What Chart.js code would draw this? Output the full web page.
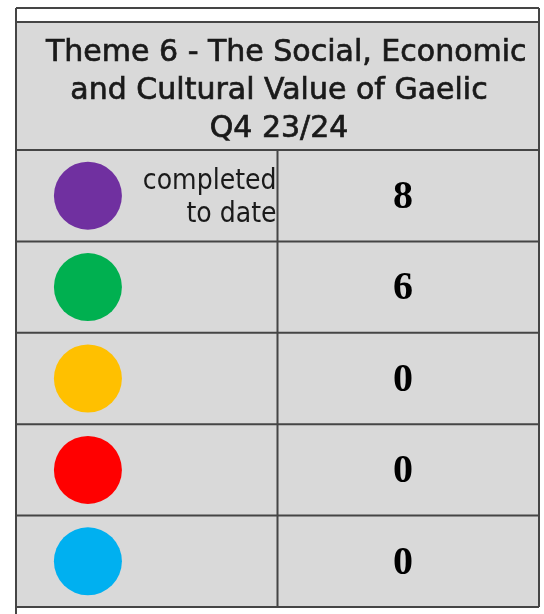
<!DOCTYPE html>
<html>
<head>
<meta charset="utf-8">
<script src="https://cdn.jsdelivr.net/npm/chart.js@4.4.0/dist/chart.umd.min.js"></script>
<style>
  html, body { margin: 0; padding: 0; background: #fff; }
  canvas { display: block; }
</style>
</head>
<body>
<canvas id="themeTable" width="544" height="614"></canvas>
<script>
// table content
const headerLines = ['Theme 6 - The Social, Economic', 'and Cultural Value of Gaelic', 'Q4 23/24']
const statusKeys = ['complete', 'green', 'amber', 'red', 'blue']
const statusColours = ['#7030A0', '#00B050', '#FFC000', '#FF0000', '#00B0F0']
const statusCounts = [8, 6, 0, 0, 0]
const statusNote = ['completed', 'to date']

const ICON_X = 0.275
const COUNT_X = 1.48
const LINE = '#454545'
const CELL = '#D9D9D9'

const tablePlugin = {
    id: 'tablePlugin',
    beforeDatasetsDraw(chart) {
        const ctx = chart.ctx
        const area = chart.chartArea
        ctx.save()
        ctx.fillStyle = CELL
        ctx.fillRect(area.left, 22, area.right - area.left, area.bottom - 22)
        ctx.restore()
    },
    afterDatasetsDraw(chart) {
        const ctx = chart.ctx
        const area = chart.chartArea
        const x = chart.scales.x
        const y = chart.scales.y
        ctx.save()

        // grid
        ctx.strokeStyle = LINE
        ctx.lineWidth = 2
        ctx.beginPath()
        ctx.moveTo(area.left, 8); ctx.lineTo(area.left, chart.height)
        ctx.moveTo(area.right, 8); ctx.lineTo(area.right, area.bottom)
        ctx.moveTo(area.left, 8); ctx.lineTo(area.right, 8)
        ctx.moveTo(area.left, 22); ctx.lineTo(area.right, 22)
        const midX = x.getPixelForValue(1)
        ctx.moveTo(midX, area.top); ctx.lineTo(midX, area.bottom)
        const step = (area.bottom - area.top) / statusKeys.length
        for (let i = 0; i <= statusKeys.length; i++) {
            const yy = area.top + step * i
            ctx.moveTo(area.left, yy); ctx.lineTo(area.right, yy)
        }
        ctx.stroke()

        // header, clipped at the cell edge like the original
        ctx.beginPath()
        ctx.rect(area.left, 22, area.right - area.left - 1, area.top - 22)
        ctx.clip()
        ctx.fillStyle = '#1a1a1a'
        ctx.strokeStyle = '#1a1a1a'
        ctx.lineWidth = 0.7
        ctx.font = '30px "DejaVu Sans"'
        ctx.textBaseline = 'middle'
        ctx.textAlign = 'left'
        ctx.fillText(headerLines[0], 46, 53)
        ctx.strokeText(headerLines[0], 46, 53)
        ctx.textAlign = 'center'
        for (let i = 1; i < headerLines.length; i++) {
            ctx.fillText(headerLines[i], 279, 53 + i * 38)
            ctx.strokeText(headerLines[i], 279, 53 + i * 38)
        }
        ctx.restore()

        ctx.save()
        // counts
        ctx.fillStyle = '#000'
        ctx.font = 'bold 40px "Liberation Serif"'
        ctx.textAlign = 'center'
        ctx.textBaseline = 'middle'
        statusCounts.forEach((v, i) => {
            ctx.fillText(String(v), x.getPixelForValue(COUNT_X), y.getPixelForValue(i) + 2)
        })

        // note next to the first icon
        ctx.font = '28px "DejaVu Sans Condensed"'
        ctx.fillStyle = '#1a1a1a'
        ctx.textAlign = 'right'
        statusNote.forEach((t, i) => {
            ctx.fillText(t, midX - 1, y.getPixelForValue(0) - 14 + i * 33)
        })
        ctx.restore()
    }
}

new Chart(document.getElementById('themeTable'), {
    type: 'scatter',
    data: {
        labels: statusKeys,
        datasets: [{
            data: statusKeys.map(k => ({ x: ICON_X, y: k })),
            pointRadius: 34,
            pointHoverRadius: 34,
            pointBorderWidth: 0,
            pointBackgroundColor: statusColours
        }]
    },
    options: {
        responsive: false,
        animation: false,
        layout: { autoPadding: false, padding: { top: 150, left: 16, right: 5, bottom: 7 } },
        plugins: { legend: { display: false }, tooltip: { enabled: false } },
        scales: {
            x: { type: 'linear', min: 0, max: 2, display: false },
            y: { type: 'category', labels: statusKeys, offset: true, display: false }
        }
    },
    plugins: [tablePlugin]
})
</script>
</body>
</html>
